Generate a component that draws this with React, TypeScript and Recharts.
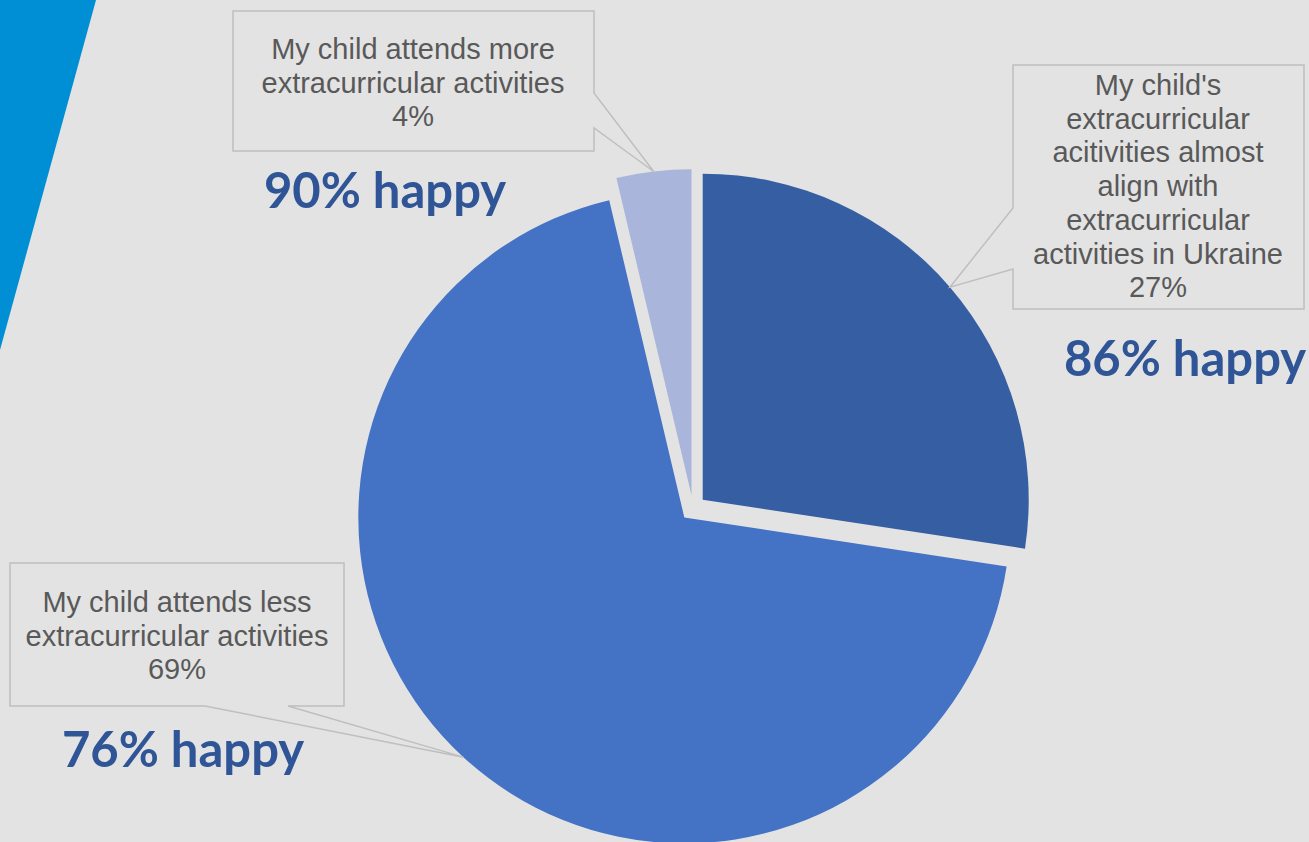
import React from 'react';
import { PieChart, Pie, Cell, Sector } from 'recharts';

const categories = [
  "My child's\nextracurricular\nacitivities almost\nalign with\nextracurricular\nactivities in Ukraine",
  'My child attends less\nextracurricular activities',
  'My child attends more\nextracurricular activities',
];
const shares = [27.4, 68.9, 3.7];
const happyLabels = ['86% happy', '76% happy', '90% happy'];

const colors = ['#365ea2', '#4472c4', '#a9b5da'];
const BG = '#e3e3e3';
const RAD = Math.PI / 180;
const EXPLODE = 12.8;

// callout boxes: x0, y0, x1, y1, side of the pointer, pointer start/end along that side
const callouts = [
  { x0: 1013, y0: 65, x1: 1304, y1: 309, side: 'left', a: 208, b: 269, tx: 1158, ty: 95 },
  { x0: 10, y0: 563, x1: 344, y1: 706, side: 'bottom', a: 205, b: 288, tx: 177, ty: 612 },
  { x0: 233, y0: 11, x1: 594, y1: 151, side: 'right', a: 93, b: 128, tx: 413, ty: 59 },
];
const happyPos = [
  { x: 1185, y: 376 },
  { x: 183, y: 767 },
  { x: 385, y: 208 },
];

const calloutPath = (c: any, tx: number, ty: number) => {
  const { x0, y0, x1, y1, side, a, b } = c;
  if (side === 'right') return `M${x0},${y0}H${x1}V${a}L${tx},${ty}L${x1},${b}V${y1}H${x0}Z`;
  if (side === 'left') return `M${x0},${y0}H${x1}V${y1}H${x0}V${b}L${tx},${ty}L${x0},${a}Z`;
  return `M${x0},${y0}H${x1}V${y1}H${b}L${tx},${ty}L${a},${y1}H${x0}Z`;
};

const renderSlice = (props: any) => {
  const { cx, cy, midAngle, outerRadius, startAngle, endAngle, index, percent } = props;
  const ox = cx + EXPLODE * Math.cos(-midAngle * RAD);
  const oy = cy + EXPLODE * Math.sin(-midAngle * RAD);
  const tipX = ox + outerRadius * Math.cos(-midAngle * RAD);
  const tipY = oy + outerRadius * Math.sin(-midAngle * RAD);
  const c = callouts[index];
  const lines = [...categories[index].split('\n'), `${Math.round(percent * 100)}%`];
  const h = happyPos[index];
  return (
    <g key={`slice-${index}`}>
      <Sector
        cx={ox}
        cy={oy}
        innerRadius={0}
        outerRadius={outerRadius}
        startAngle={startAngle}
        endAngle={endAngle}
        fill={colors[index]}
        stroke="none"
      />
      <path d={calloutPath(c, tipX, tipY)} fill={BG} stroke="#bfbfbf" strokeWidth={1.5} />
      <text
        x={c.tx}
        y={c.ty}
        textAnchor="middle"
        fill="#595959"
        style={{ fontFamily: 'Arial, "Liberation Sans", Helvetica, sans-serif' }}
        fontSize={29}
      >
        {lines.map((l, i) => (
          <tspan key={i} x={c.tx} dy={i === 0 ? 0 : 33.7}>
            {l}
          </tspan>
        ))}
      </text>
      <text
        x={h.x}
        y={h.y}
        textAnchor="middle"
        fill="#2f5597"
        style={{ fontFamily: 'Lato, "Open Sans", sans-serif' }}
        fontWeight={700}
        fontSize={49}
      >
        {happyLabels[index]}
      </text>
    </g>
  );
};

export default function App() {
  const data = categories.map((name, i) => ({ name, value: shares[i] }));
  return (
    <div style={{ position: 'relative', width: 1309, height: 842, background: BG, overflow: 'hidden' }}>
      <style>{'body{margin:0}'}</style>
      <svg width={1309} height={842} style={{ position: 'absolute', left: 0, top: 0 }}>
        <polygon points="0,0 96,0 0,350" fill="#008fd5" />
      </svg>
      <div style={{ position: 'absolute', left: 0, top: 0 }}>
        <PieChart width={1309} height={842} margin={{ top: 0, right: 0, bottom: 0, left: 0 }}>
          <Pie
            data={data}
            dataKey="value"
            nameKey="name"
            cx={693}
            cy={508}
            innerRadius={0}
            outerRadius={326}
            startAngle={90}
            endAngle={-270}
            stroke="none"
            label={renderSlice}
            labelLine={false}
            isAnimationActive={false}
          >
            {data.map((d) => (
              <Cell key={d.name} fill="transparent" stroke="none" />
            ))}
          </Pie>
        </PieChart>
      </div>
    </div>
  );
}
